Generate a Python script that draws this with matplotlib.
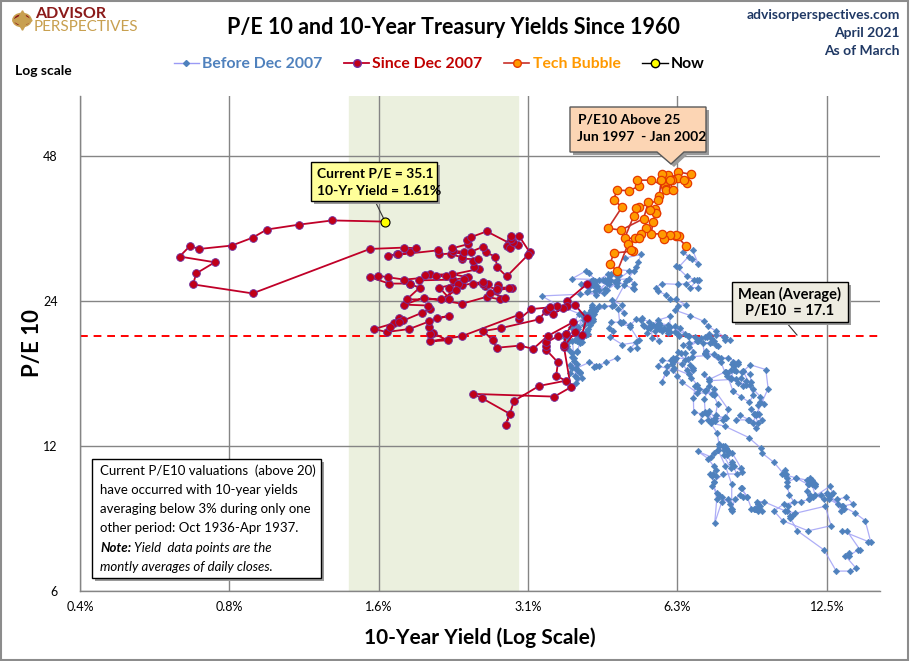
import numpy as np
import matplotlib
matplotlib.use('Agg')
import matplotlib.pyplot as plt
from matplotlib.patches import Rectangle, Polygon, Circle
from matplotlib.lines import Line2D

plt.rcParams['font.family'] = ['Lato', 'DejaVu Sans']

# ---- data: 10-yr yield (%) and P/E10, monthly ----
# before Dec 2007 (Jan 1960 - May 1997)
yield_1960s = [4.72, 4.49, 4.25, 4.28, 4.35, 4.15, 3.90, 3.80, 3.80, 3.89, 3.93, 3.84,
               3.84, 3.78, 3.74, 3.78, 3.71, 3.88, 3.92, 4.04, 3.98, 3.92, 3.94, 4.06,
               4.08, 4.04, 3.93, 3.84, 3.87, 3.91, 4.01, 3.98, 3.98, 3.93, 3.92, 3.86,
               3.83, 3.92, 3.93, 3.97, 3.93, 3.99, 4.02, 4.00, 4.08, 4.11, 4.12, 4.13,
               4.17, 4.15, 4.22, 4.23, 4.20, 4.17, 4.19, 4.19, 4.20, 4.19, 4.15, 4.18,
               4.19, 4.21, 4.21, 4.20, 4.21, 4.21, 4.20, 4.25, 4.29, 4.35, 4.45, 4.62,
               4.61, 4.83, 4.87, 4.75, 4.78, 4.81, 5.02, 5.22, 5.18, 5.01, 5.16, 4.84,
               4.58, 4.63, 4.54, 4.59, 4.85, 5.02, 5.16, 5.28, 5.30, 5.48, 5.75, 5.70,
               5.53, 5.56, 5.74, 5.64, 5.87, 5.72, 5.50, 5.42, 5.46, 5.58, 5.70, 6.03,
               6.04, 6.19, 6.30, 6.17, 6.32, 6.57, 6.72, 6.69, 7.16, 7.10, 7.14, 7.65]
pe_1960s = [18.3, 17.9, 17.5, 17.6, 17.6, 17.9, 17.4, 17.7, 17.0, 16.8, 17.3, 17.4,
            18.4, 19.0, 19.4, 19.8, 20.1, 19.9, 19.8, 20.4, 20.3, 20.5, 21.2, 21.4,
            20.4, 20.5, 20.5, 19.8, 18.0, 16.2, 16.6, 17.1, 17.0, 16.6, 17.8, 18.3,
            18.7, 18.8, 18.9, 19.6, 20.0, 20.0, 19.7, 20.3, 20.5, 20.8, 20.5, 21.0,
            21.4, 21.6, 21.8, 22.0, 22.0, 22.1, 22.5, 22.2, 22.6, 22.7, 22.7, 22.4,
            23.0, 23.3, 23.1, 23.3, 23.6, 22.3, 22.1, 22.6, 23.1, 23.4, 23.4, 23.5,
            24.1, 23.6, 22.7, 23.1, 21.7, 21.6, 21.2, 19.9, 19.2, 19.1, 19.7, 19.5,
            20.2, 20.8, 21.1, 21.7, 21.7, 21.4, 22.0, 21.9, 22.1, 21.7, 21.0, 21.5,
            21.3, 20.1, 19.8, 20.8, 21.1, 21.3, 21.1, 20.6, 21.1, 21.4, 21.9, 22.3,
            21.2, 21.3, 20.3, 20.7, 21.1, 20.3, 18.8, 18.4, 18.5, 18.7, 18.9, 17.9]
yield_1970s = [7.79, 7.24, 7.07, 7.39, 7.91, 7.84, 7.46, 7.53, 7.39, 7.33, 6.84, 6.39,
               6.24, 6.11, 5.70, 5.83, 6.39, 6.52, 6.73, 6.58, 6.14, 5.93, 5.81, 5.93,
               5.95, 6.08, 6.07, 6.19, 6.13, 6.11, 6.11, 6.21, 6.55, 6.48, 6.28, 6.36,
               6.46, 6.64, 6.71, 6.67, 6.85, 6.90, 7.13, 7.40, 7.09, 6.79, 6.73, 6.74,
               6.99, 6.96, 7.21, 7.51, 7.58, 7.54, 7.81, 8.04, 8.04, 7.90, 7.68, 7.43,
               7.50, 7.39, 7.73, 8.23, 8.06, 7.86, 8.06, 8.40, 8.43, 8.14, 8.05, 8.00,
               7.74, 7.79, 7.73, 7.56, 7.90, 7.86, 7.83, 7.77, 7.59, 7.41, 7.29, 6.87,
               7.21, 7.39, 7.46, 7.37, 7.46, 7.28, 7.33, 7.40, 7.34, 7.52, 7.58, 7.69,
               7.96, 8.03, 8.04, 8.15, 8.35, 8.46, 8.64, 8.41, 8.42, 8.64, 8.81, 9.01,
               9.10, 9.10, 9.12, 9.18, 9.25, 8.91, 8.95, 9.03, 9.33, 10.30, 10.65, 10.39]
pe_1970s = [17.1, 16.5, 16.9, 15.8, 14.3, 13.7, 13.9, 14.7, 15.3, 15.4, 15.5, 16.3,
            16.8, 17.3, 17.6, 18.1, 17.8, 17.3, 17.3, 16.9, 17.4, 17.0, 16.3, 17.1,
            17.6, 17.8, 18.1, 18.2, 18.1, 18.3, 17.9, 18.3, 18.2, 18.1, 18.8, 18.7,
            18.7, 17.7, 17.4, 16.6, 16.1, 15.8, 15.7, 15.4, 15.6, 16.0, 15.1, 14.1,
            14.0, 13.5, 13.6, 12.8, 12.1, 11.8, 10.9, 10.0, 8.9, 9.3, 9.2, 8.3,
            9.3, 10.1, 10.5, 10.5, 11.0, 11.5, 11.6, 10.8, 10.6, 10.9, 11.1, 10.8,
            11.5, 12.0, 12.0, 11.8, 11.7, 11.8, 11.9, 11.8, 12.0, 11.6, 11.4, 11.7,
            11.3, 10.9, 10.7, 10.5, 10.4, 10.5, 10.4, 10.1, 9.9, 9.6, 9.5, 9.4,
            9.1, 8.9, 8.8, 9.3, 9.5, 9.4, 9.4, 9.8, 9.8, 9.4, 8.9, 8.9,
            9.1, 8.8, 8.9, 9.0, 8.8, 8.9, 8.9, 9.2, 9.2, 8.8, 8.6, 8.8]
yield_1980s = [10.80, 12.41, 12.75, 11.47, 10.18, 9.78, 10.25, 11.10, 11.51, 11.75, 12.68, 12.84,
               12.57, 13.19, 13.12, 13.68, 14.10, 13.47, 14.28, 14.94, 15.32, 15.15, 13.39, 13.72,
               14.59, 14.43, 13.86, 13.87, 13.62, 14.30, 13.95, 13.06, 12.34, 10.91, 10.55, 10.54,
               10.46, 10.72, 10.51, 10.40, 10.38, 10.85, 11.38, 11.85, 11.65, 11.54, 11.69, 11.83,
               11.67, 11.84, 12.32, 12.63, 13.41, 13.56, 13.36, 12.72, 12.52, 12.16, 11.57, 11.50,
               11.38, 11.51, 11.86, 11.43, 10.85, 10.16, 10.31, 10.33, 10.37, 10.24, 9.78, 9.26,
               9.19, 8.70, 7.78, 7.30, 7.71, 7.80, 7.30, 7.17, 7.45, 7.43, 7.25, 7.11,
               7.08, 7.25, 7.25, 8.02, 8.61, 8.40, 8.45, 8.76, 9.42, 9.52, 8.86, 8.99,
               8.67, 8.21, 8.37, 8.72, 9.09, 8.92, 9.06, 9.26, 8.98, 8.80, 8.96, 9.11,
               9.09, 9.17, 9.36, 9.18, 8.86, 8.28, 8.02, 8.11, 8.19, 8.01, 7.87, 7.84]
pe_1980s = [8.7, 9.0, 8.2, 8.0, 8.4, 8.8, 9.1, 9.2, 9.3, 9.4, 9.9, 9.6,
            9.5, 9.1, 9.3, 9.4, 9.1, 9.0, 8.7, 8.4, 7.6, 7.6, 8.0, 8.0,
            7.3, 7.3, 7.1, 7.2, 7.1, 6.7, 6.6, 6.6, 7.3, 8.0, 8.5, 8.6,
            9.0, 9.2, 9.5, 9.9, 10.1, 10.3, 10.2, 10.0, 10.2, 10.3, 10.1, 10.0,
            10.0, 9.5, 9.3, 9.3, 9.0, 8.9, 8.8, 9.5, 9.6, 9.5, 9.5, 9.3,
            9.7, 10.0, 9.9, 10.0, 10.3, 10.5, 10.7, 10.5, 10.3, 10.5, 11.1, 11.6,
            11.9, 12.5, 13.2, 13.4, 13.6, 13.8, 13.5, 14.0, 13.5, 13.7, 14.2, 14.1,
            15.0, 16.0, 16.4, 16.5, 16.1, 16.6, 17.1, 17.7, 17.3, 15.8, 13.4, 13.1,
            13.6, 13.6, 13.9, 13.6, 13.4, 14.0, 14.0, 13.6, 13.9, 14.3, 14.0, 14.0,
            14.6, 14.8, 14.7, 15.2, 15.8, 16.2, 16.6, 17.3, 17.2, 17.3, 16.8, 17.1]
yield_1990s = [8.21, 8.47, 8.59, 8.79, 8.76, 8.48, 8.47, 8.75, 8.89, 8.72, 8.39, 8.08,
               8.09, 7.85, 8.11, 8.04, 8.07, 8.28, 8.27, 7.90, 7.65, 7.53, 7.42, 7.09,
               7.03, 7.34, 7.54, 7.48, 7.39, 7.26, 6.84, 6.59, 6.42, 6.59, 6.87, 6.77,
               6.60, 6.26, 5.98, 5.97, 6.04, 5.96, 5.81, 5.68, 5.36, 5.33, 5.72, 5.77,
               5.75, 5.97, 6.48, 6.97, 7.18, 7.10, 7.30, 7.24, 7.46, 7.74, 7.96, 7.81,
               7.78, 7.47, 7.20, 7.06, 6.63, 6.17, 6.28, 6.49, 6.20, 6.04, 5.93, 5.71,
               5.65, 5.81, 6.27, 6.51, 6.74, 6.91, 6.87, 6.64, 6.83, 6.53, 6.20, 6.30,
               6.58, 6.42, 6.69, 6.89, 6.71]
pe_1990s = [16.5, 16.0, 16.4, 16.3, 16.9, 17.2, 17.2, 16.1, 15.3, 14.8, 15.2, 15.6,
            15.6, 17.0, 17.6, 17.8, 17.9, 17.8, 17.9, 18.3, 18.3, 18.4, 18.6, 18.6,
            19.6, 19.7, 19.4, 19.5, 19.8, 19.6, 19.8, 19.6, 19.5, 19.3, 19.8, 20.2,
            20.3, 20.5, 20.9, 20.6, 20.7, 20.9, 20.8, 21.1, 21.3, 21.4, 21.2, 21.4,
            21.6, 21.4, 20.5, 20.1, 20.2, 20.2, 20.1, 20.5, 20.4, 20.2, 19.9, 19.9,
            20.2, 20.8, 21.3, 21.8, 22.4, 23.0, 23.5, 23.6, 24.2, 24.2, 24.7, 25.2,
            25.6, 26.1, 26.0, 26.1, 26.5, 26.6, 25.6, 25.6, 26.5, 27.0, 28.4, 28.3,
            29.7, 30.3, 29.4, 28.6, 30.6]
# before Dec 2007 (Feb 2002 - Nov 2007)
yield_2000s = [4.91, 5.28, 5.21, 5.16, 4.93, 4.65, 4.26, 3.87, 3.94, 4.05, 4.03,
               4.05, 3.90, 3.81, 3.96, 3.57, 3.33, 3.98, 4.45, 4.27, 4.29, 4.30, 4.27,
               4.15, 4.08, 3.83, 4.35, 4.72, 4.73, 4.50, 4.28, 4.13, 4.10, 4.19, 4.23,
               4.22, 4.17, 4.50, 4.34, 4.14, 4.00, 4.18, 4.26, 4.20, 4.46, 4.54, 4.47,
               4.42, 4.57, 4.72, 4.99, 5.11, 5.11, 5.09, 4.88, 4.72, 4.73, 4.60, 4.56,
               4.76, 4.72, 4.56, 4.69, 4.75, 5.10, 5.00, 4.67, 4.52, 4.53, 4.15]
pe_2000s = [29.5, 30.0, 28.9, 28.2, 26.4, 23.6, 22.9, 21.5, 21.0, 22.7, 22.3,
            21.9, 20.8, 21.2, 22.6, 23.6, 24.6, 24.8, 24.9, 25.2, 25.7, 25.8, 26.4,
            27.5, 27.7, 26.7, 26.6, 25.8, 26.2, 25.3, 24.7, 25.2, 25.1, 26.0, 26.6,
            25.9, 26.2, 26.2, 25.3, 25.7, 26.1, 26.4, 26.1, 26.0, 25.4, 26.1, 26.5,
            26.5, 26.5, 26.6, 26.7, 26.1, 25.4, 25.5, 25.9, 26.5, 27.0, 27.3, 27.2,
            27.2, 27.4, 26.6, 27.4, 27.9, 27.7, 27.7, 26.3, 26.7, 27.3, 25.8]

# tech bubble (Jun 1997 - Jan 2002)
bubble_yield = [6.49, 6.22, 6.30, 6.21, 6.03, 5.88, 5.81,
                5.54, 5.57, 5.65, 5.64, 5.65, 5.50, 5.46, 5.34, 4.81, 4.53, 4.83, 4.65,
                4.72, 5.00, 5.23, 5.18, 5.54, 5.90, 5.79, 5.94, 5.92, 6.11, 6.03, 6.28,
                6.66, 6.52, 6.26, 5.99, 6.44, 6.10, 6.05, 5.83, 5.80, 5.74, 5.72, 5.24,
                5.16, 5.10, 4.89, 5.14, 5.39, 5.28, 5.24, 4.97, 4.73, 4.57, 4.65, 5.09,
                5.04]
bubble_pe = [31.3, 32.8, 32.8, 33.0, 33.0, 32.3, 33.1,
             33.1, 35.0, 36.5, 37.2, 36.6, 37.1, 38.5, 35.6, 33.7, 34.0, 37.6, 39.0,
             40.8, 40.7, 41.6, 42.8, 42.8, 41.6, 42.8, 41.0, 40.8, 40.8, 42.8, 44.5,
             44.0, 42.3, 43.3, 43.8, 42.9, 42.8, 42.8, 44.0, 42.8, 39.6, 38.9, 37.6,
             37.4, 36.0, 32.4, 32.4, 34.1, 33.1, 32.4, 31.5, 27.7, 28.6, 30.2, 30.5,
             30.6]

# since Dec 2007 (Dec 2007 - Mar 2021)
since_yield = [4.10,
               3.74, 3.74, 3.51, 3.68, 3.88, 4.10, 4.01, 3.89, 3.69, 3.81, 3.53, 2.42,
               2.52, 2.87, 2.82, 2.93, 3.29, 3.72, 3.56, 3.59, 3.40, 3.39, 3.40, 3.59,
               3.73, 3.69, 3.73, 3.85, 3.42, 3.20, 3.01, 2.70, 2.65, 2.54, 2.76, 3.29,
               3.39, 3.58, 3.41, 3.46, 3.17, 3.00, 3.00, 2.30, 1.98, 2.15, 2.01, 1.98,
               1.97, 1.97, 2.17, 2.05, 1.80, 1.62, 1.53, 1.68, 1.72, 1.75, 1.65, 1.72,
               1.91, 1.98, 1.96, 1.76, 1.93, 2.30, 2.58, 2.74, 2.81, 2.62, 2.72, 2.90,
               2.86, 2.71, 2.72, 2.71, 2.56, 2.60, 2.54, 2.42, 2.53, 2.30, 2.33, 2.21,
               1.88, 1.98, 2.04, 1.94, 2.20, 2.36, 2.32, 2.17, 2.17, 2.07, 2.26, 2.24,
               2.09, 1.78, 1.89, 1.81, 1.81, 1.64, 1.50, 1.56, 1.63, 1.76, 2.14, 2.49,
               2.43, 2.42, 2.48, 2.30, 2.30, 2.19, 2.32, 2.21, 2.20, 2.36, 2.35, 2.40,
               2.58, 2.86, 2.84, 2.87, 2.98, 2.91, 2.89, 2.89, 3.00, 3.15, 3.12, 2.83,
               2.71, 2.68, 2.57, 2.53, 2.40, 2.07, 2.06, 1.63, 1.70, 1.71, 1.81, 1.86,
               1.76, 1.50, 0.87, 0.66, 0.67, 0.73, 0.62, 0.65, 0.68, 0.79, 0.87, 0.93,
               1.08, 1.26, 1.61]
since_pe = [26.0,
            24.0, 23.5, 22.6, 23.2, 23.6, 22.1, 20.4, 20.7, 19.3, 15.9, 15.2, 15.4,
            15.1, 14.0, 13.3, 14.9, 16.0, 16.4, 16.8, 17.9, 19.0, 19.4, 19.7, 20.3,
            20.5, 19.5, 20.5, 21.7, 20.3, 19.1, 19.4, 19.2, 19.9, 20.8, 21.1, 22.0,
            22.9, 23.5, 23.0, 23.3, 23.1, 22.0, 22.5, 20.3, 19.8, 19.9, 20.6, 20.5,
            21.2, 21.8, 22.4, 22.1, 21.0, 20.7, 21.0, 21.6, 22.1, 21.9, 21.2, 21.7,
            22.7, 23.1, 23.5, 23.6, 24.4, 23.7, 24.5, 24.2, 24.4, 25.0, 25.6, 25.6,
            25.5, 25.3, 25.9, 25.4, 25.8, 26.1, 26.0, 26.0, 26.3, 25.9, 26.8, 26.6,
            26.5, 27.3, 27.1, 27.2, 27.3, 26.9, 26.7, 25.5, 24.3, 25.6, 26.1, 25.3,
            24.2, 24.2, 25.6, 26.0, 26.1, 26.1, 26.9, 27.1, 26.9, 26.6, 27.1, 28.0,
            28.2, 29.1, 29.3, 29.4, 29.6, 30.0, 30.4, 30.5, 30.9, 31.5, 32.1, 32.6,
            33.5, 31.7, 31.2, 31.0, 31.4, 31.9, 32.3, 32.8, 32.7, 30.3, 29.9, 27.0,
            28.2, 29.7, 30.3, 31.1, 30.4, 30.0, 30.6, 29.8, 30.0, 30.0, 30.3, 30.9,
            31.0, 30.8, 24.9, 26.0, 27.4, 28.9, 29.7, 31.2, 30.8, 31.3, 32.5, 33.8,
            34.6, 35.3, 35.1]

now_yield = 1.61
now_pe = 35.1
mean_label = 17.1
mean_line_level = 20.3          # where the dashed line sits on the chart
low_yield_band = (1.36, 2.98)

x_tick_vals = [0.390625, 0.78125, 1.5625, 3.125, 6.25, 12.5]
x_tick_labels = ['0.4%', '0.8%', '1.6%', '3.1%', '6.3%', '12.5%']
y_tick_vals = [6, 12, 24, 48]

early_yield = yield_1960s + yield_1970s + yield_1980s + yield_1990s
early_pe = pe_1960s + pe_1970s + pe_1980s + pe_1990s

# ---- layout helpers (pixel -> figure fraction) ----
W, H = 910, 661
def fx(px):
    return px / W
def fy(py):
    return 1 - py / H

blue_mk = '#4F81BD'
blue_ln = '#9A9AF5'
red_mk = '#C00018'
red_edge = '#7030A0'
red_ln = '#C00028'
orange_mk = '#FF9A00'
orange_edge = '#E63A00'
orange_ln = '#C8302A'

fig = plt.figure(figsize=(9.1, 6.61), dpi=100)
fig.patch.set_facecolor('white')
fig.add_artist(Rectangle((0.001, 0.001), 0.997, 0.997, transform=fig.transFigure,
                         fill=False, edgecolor='#8C8C8C', lw=1.5))

ax = fig.add_axes([fx(80), fy(591), fx(880) - fx(80), fy(96) - fy(591)])
ax.set_xscale('log', base=2)
ax.set_yscale('log', base=2)
ax.set_xlim(0.390625, 16.0)
ax.set_ylim(6, 64)
ax.set_xticks(x_tick_vals)
ax.set_xticklabels(x_tick_labels)
ax.set_yticks(y_tick_vals)
ax.set_yticklabels([str(v) for v in y_tick_vals])
ax.minorticks_off()
ax.tick_params(axis='both', length=0, labelsize=9)
ax.tick_params(axis='x', pad=7)
ax.tick_params(axis='y', pad=16)
ax.grid(True, color='#858585', lw=1)
ax.set_axisbelow(True)
for s in ['top', 'right']:
    ax.spines[s].set_visible(False)
for s in ['left', 'bottom']:
    ax.spines[s].set_color('#858585')
    ax.spines[s].set_linewidth(1)

ax.axvspan(low_yield_band[0], low_yield_band[1], color='#EBF0DE', zorder=0)
ax.axhline(mean_line_level, color='#FF0000', lw=1.4, ls=(0, (4, 3)), zorder=2)

ax.plot(early_yield, early_pe, color=blue_ln, lw=0.9, alpha=0.8, zorder=3)
ax.plot(yield_2000s, pe_2000s, color=blue_ln, lw=0.9, alpha=0.8, zorder=3)
ax.plot(early_yield, early_pe, ls='none', marker='D', ms=3.3, mfc=blue_mk,
        mec=blue_mk, mew=0.4, zorder=4)
ax.plot(yield_2000s, pe_2000s, ls='none', marker='D', ms=3.3, mfc=blue_mk,
        mec=blue_mk, mew=0.4, zorder=4)

ax.plot(since_yield, since_pe, color=red_ln, lw=1.3, marker='o', ms=5.6,
        mfc=red_mk, mec=red_edge, mew=0.6, zorder=5)
ax.plot(bubble_yield, bubble_pe, color=orange_ln, lw=1.2, marker='o', ms=6,
        mfc=orange_mk, mec=orange_edge, mew=0.9, zorder=6)
ax.plot([now_yield], [now_pe], ls='none', marker='o', ms=6.5, mfc='#FFFF00',
        mec='black', mew=0.8, zorder=7)

ax.set_xlabel('10-Year Yield (Log Scale)', fontsize=15, fontweight='bold')
ax.xaxis.set_label_coords(0.5, -(638 - 591) / 495, transform=ax.transAxes)
ax.xaxis.label.set_va('center')
ax.set_ylabel('P/E 10', fontsize=16, fontweight='bold')
ax.yaxis.set_label_coords(-(80 - 32) / 800, 0.5, transform=ax.transAxes)
ax.yaxis.label.set_va('center')

# ---- header ----
fig.text(fx(453), fy(27), 'P/E 10 and 10-Year Treasury Yields Since 1960',
         ha='center', va='center', fontsize=15.5, fontweight='bold')
for i, s in enumerate(['advisorperspectives.com', 'April 2021', 'As of March']):
    fig.text(fx(900), fy(15 + 18 * i), s, ha='right', va='center', fontsize=10,
             fontweight='bold', color='#1F3864')
fig.text(fx(15), fy(71), 'Log scale', ha='left', va='center', fontsize=10,
         fontweight='bold')
# logo
fig.add_artist(Circle((fx(22), fy(20)), 9 / W, transform=fig.transFigure,
                      facecolor='#8B1A1A', edgecolor='#C8A050', lw=1.2))
fig.add_artist(Line2D([fx(22)], [fy(20)], marker=(4, 1, 0), ms=14, color='#C8A050',
                      transform=fig.transFigure))
fig.text(fx(35), fy(14), 'ADVISOR', ha='left', va='center', fontsize=11.5,
         fontweight='bold', color='#8B1A1A')
fig.text(fx(34), fy(27), 'PERSPECTIVES', ha='left', va='center', fontsize=11,
         color='#C8A050')

# legend
handles = [
    Line2D([], [], color=blue_ln, lw=1, marker='D', ms=3, mfc=blue_mk, mec=blue_mk),
    Line2D([], [], color=red_ln, lw=1.3, marker='o', ms=5.5, mfc=red_mk, mec=red_edge),
    Line2D([], [], color=orange_ln, lw=1.2, marker='o', ms=5.5, mfc=orange_mk, mec=orange_edge),
    Line2D([], [], color='black', lw=1, marker='o', ms=6, mfc='#FFFF00', mec='black'),
]
labels = ['Before Dec 2007', 'Since Dec 2007', 'Tech Bubble', 'Now']
fig.legend(handles, labels, loc='center', bbox_to_anchor=(fx(439), fy(64)), ncol=4,
           frameon=False, prop={'weight': 'bold', 'size': 11.3}, handlelength=1.6,
           handletextpad=0.2, columnspacing=1.4,
           labelcolor=[blue_mk, '#C00000', '#FF9900', 'black'])

# ---- boxes ----
def shadow_box(x0, y0, x1, y1, face, lw=1.0):
    fig.add_artist(Rectangle((fx(x0 + 3), fy(y1 + 3)), fx(x1 - x0), (y1 - y0) / H,
                             transform=fig.transFigure, facecolor='#9A9A9A',
                             edgecolor='none', zorder=9))
    fig.add_artist(Rectangle((fx(x0), fy(y1)), fx(x1 - x0), (y1 - y0) / H,
                             transform=fig.transFigure, facecolor=face,
                             edgecolor='black', lw=lw, zorder=10))

# current P/E
shadow_box(311, 162, 437, 201, '#FFFF99')
fig.text(fx(317), fy(173), 'Current P/E = %.1f' % now_pe, fontsize=10,
         fontweight='bold', va='center', zorder=11)
fig.text(fx(317), fy(191), '10-Yr Yield = %.2f%%' % now_yield, fontsize=10,
         fontweight='bold', va='center', zorder=11)
ax.annotate('', xy=(now_yield, now_pe), xytext=(fx(375), fy(201)),
            textcoords='figure fraction',
            arrowprops=dict(arrowstyle='-', color='#333333', lw=0.8, shrinkA=0, shrinkB=3))

# tech bubble callout
call = [(570, 107), (706, 107), (706, 152), (684, 152), (671, 164), (657, 152), (570, 152)]
fig.add_artist(Polygon([(fx(x + 3), fy(y + 3)) for x, y in call], closed=True,
                       transform=fig.transFigure, facecolor='#9A9A9A',
                       edgecolor='none', zorder=9))
fig.add_artist(Polygon([(fx(x), fy(y)) for x, y in call], closed=True,
                       transform=fig.transFigure, facecolor='#FCD5B4',
                       edgecolor='#595959', lw=1, zorder=10))
fig.text(fx(578), fy(119), 'P/E10 Above 25', fontsize=10, fontweight='bold',
         va='center', zorder=11)
fig.text(fx(577), fy(137), 'Jun 1997  - Jan 2002', fontsize=10, fontweight='bold',
         va='center', zorder=11)

# mean
shadow_box(732, 282, 848, 322, '#EEECE1')
fig.text(fx(790), fy(294), 'Mean (Average)', fontsize=10.5, fontweight='bold',
         ha='center', va='center', zorder=11)
fig.text(fx(790), fy(311), 'P/E10  = %.1f' % mean_label, fontsize=10.5,
         fontweight='bold', ha='center', va='center', zorder=11)
fig.add_artist(Line2D([fx(786), fx(797)], [fy(322), fy(335)], color='#333333', lw=0.8,
                      transform=fig.transFigure, zorder=8))

# note box
shadow_box(92, 459, 321, 578, 'white')
note_lines = ['Current P/E10 valuations  (above 20)',
              'have occurred with 10-year yields',
              'averaging below 3% during only one',
              'other period: Oct 1936-Apr 1937.']
for i, s in enumerate(note_lines):
    fig.text(fx(100), fy(471 + 19 * i), s, fontsize=9.5, va='center', zorder=11)
t_note = fig.text(fx(100), fy(548), 'Note:', fontsize=9.5, fontweight='bold',
                  style='italic', va='center', zorder=11)
fig.canvas.draw()
bb = t_note.get_window_extent()
fig.text(bb.x1 / W + 3 / W, fy(548), 'Yield  data points are the', fontsize=9.5,
         style='italic', va='center', zorder=11)
fig.text(fx(100), fy(567), 'montly averages of daily closes.', fontsize=9.5,
         style='italic', va='center', zorder=11)

fig.savefig('out.png', dpi=100)
